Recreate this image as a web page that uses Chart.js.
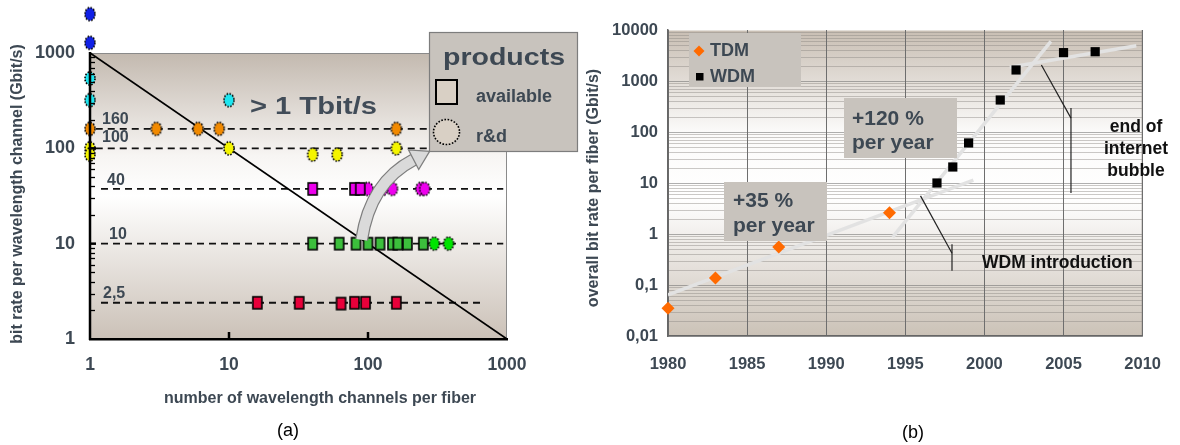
<!DOCTYPE html>
<html><head><meta charset="utf-8">
<script src="https://cdn.jsdelivr.net/npm/chart.js@4.4.0/dist/chart.umd.min.js"></script>
<style>
body{margin:0;background:#fff;width:1180px;height:445px;overflow:hidden;position:relative;font-family:"Liberation Sans",Arial,sans-serif}
#wa{position:absolute;left:0;top:0;width:580px;height:445px}
#wb{position:absolute;left:580px;top:0;width:600px;height:445px}
.cap{position:absolute;font-size:18px;color:#000;line-height:18px}
</style></head><body>
<div id="wa"><canvas id="ca" width="580" height="445"></canvas></div>
<div id="wb"><canvas id="cb" width="600" height="445"></canvas></div>
<div class="cap" style="left:277px;top:421px">(a)</div>
<div class="cap" style="left:902px;top:423px">(b)</div>
<script>
// ---------- Panel (a) data ----------
const aTicksX = [1, 10, 100, 1000];
const aTicksY = [1, 10, 100, 1000];
const aFrameTop = 1000;
const rateLevels = [160, 100, 37.5, 10, 2.4];
const rateLabels = ['160', '100', '40', '10', '2,5'];
const rateLineStart = [1.1, 1.1, 1.2, 1.2, 1.2];
const rateLineEnd = [1000, 1000, 940, 940, 670];
const limitLine = [{x: 1, y: 1000}, {x: 1000, y: 1}];
const blueRD = [{x: 1, y: 2560}, {x: 1, y: 1280}];
const cyanRD = [{x: 1, y: 540}, {x: 1, y: 320}, {x: 10, y: 320}];
const orangeRD = [{x: 1, y: 160}, {x: 3, y: 160}, {x: 6, y: 160}, {x: 8.5, y: 160}, {x: 160, y: 160}];
const yellowRD = [{x: 1, y: 100}, {x: 1, y: 86}, {x: 10, y: 100}, {x: 40, y: 86}, {x: 60, y: 86}, {x: 160, y: 100}];
const magentaAv = [{x: 40, y: 37.5}, {x: 80, y: 37.5}, {x: 88, y: 37.5}];
const magentaRD = [{x: 100, y: 37.5}, {x: 128, y: 37.5}, {x: 150, y: 37.5}, {x: 240, y: 37.5}, {x: 256, y: 37.5}];
const greenAv = [{x: 40, y: 10}, {x: 62, y: 10}, {x: 82, y: 10}, {x: 100, y: 10}, {x: 122, y: 10}, {x: 150, y: 10}, {x: 164, y: 10}, {x: 192, y: 10}, {x: 250, y: 10}];
const greenRD = [{x: 300, y: 10}, {x: 380, y: 10}];
const redAv = [{x: 16, y: 2.4}, {x: 32, y: 2.4}, {x: 64, y: 2.35}, {x: 80, y: 2.4}, {x: 96, y: 2.4}, {x: 160, y: 2.4}];
const arrowBase = [90, 11];

// ---------- Panel (b) data ----------
const tdmYears = [1980, 1983, 1987, 1994];
const tdmRates = [0.035, 0.137, 0.556, 2.6];
const wdmYears = [1997, 1998, 1999, 2001, 2002, 2005, 2007];
const wdmRates = [10, 20.6, 61, 424, 1645, 3600, 3750];
const bTicksY = [0.01, 0.1, 1, 10, 100, 1000, 10000];
const bTickLabelsY = ['0,01', '0,1', '1', '10', '100', '1000', '10000'];
const trendTdm = [{x: 1980, y: 0.064}, {x: 1999.3, y: 11.4}];
const trendWdm = [{x: 1994.2, y: 0.87}, {x: 2004.2, y: 6000}];
const trendSat = [{x: 2001.6, y: 1860}, {x: 2009.6, y: 4900}];
const wdmIntroPointer = [{x: 1995.96, y: 5.6}, {x: 1997.95, y: 0.42}];
const wdmIntroTick = [{x: 1997.95, y: 0.63}, {x: 1997.95, y: 0.19}];
const bubblePointer = [{x: 2003.6, y: 2060}, {x: 2005.47, y: 187}];
const bubbleTick = [{x: 2005.47, y: 296}, {x: 2005.47, y: 6.4}];

// ---------- helpers ----------
const FONT = '"Liberation Sans", Arial, sans-serif';
const TXT = '#3d4853';
const BOXFILL = '#c8c3bd';
function f(size, bold) { return (bold ? 'bold ' : '') + size + 'px ' + FONT; }
function markerImg(fill, shape, w, h) {
  const c = document.createElement('canvas');
  c.width = w + 4; c.height = h + 4;
  const g = c.getContext('2d');
  g.fillStyle = fill; g.strokeStyle = '#000';
  if (shape === 'rect') {
    g.lineWidth = 1.6; g.fillRect(2, 2, w, h); g.strokeRect(2, 2, w, h);
  } else {
    g.beginPath(); g.ellipse(c.width / 2, c.height / 2, w / 2, h / 2, 0, 0, Math.PI * 2);
    g.fill(); g.setLineDash([1.6, 1.4]); g.lineWidth = 1.6; g.stroke();
  }
  return c;
}
function stretchText(ctx, s, x, y, targetW) {
  const w = ctx.measureText(s).width;
  ctx.save(); ctx.translate(x, y); ctx.scale(targetW / w, 1); ctx.fillText(s, 0, 0); ctx.restore();
}
function ptsOf(xs, ys) { return xs.map((x, i) => ({x: x, y: ys[i]})); }

// ---------- Chart (a) ----------
const rdA = (col) => markerImg(col, 'ell', 10, 13);
const avA = (col) => markerImg(col, 'rect', 9, 12);
const dsA = [];
rateLevels.forEach((lv, i) => dsA.push({type: 'line', data: [{x: rateLineStart[i], y: lv}, {x: rateLineEnd[i], y: lv}], borderColor: '#111', borderWidth: 1.8, borderDash: [7, 5], pointRadius: 0, order: 3}));
dsA.push({type: 'line', data: limitLine, borderColor: '#000', borderWidth: 1.8, pointRadius: 0, order: 2});
[[blueRD, rdA('#1020e6')], [cyanRD, rdA('#1ee6f0')], [orangeRD, rdA('#f28a00')], [yellowRD, rdA('#f5f500')],
 [magentaAv, avA('#ee00ee')], [magentaRD, rdA('#ee00ee')], [greenAv, avA('#3cbf3c')], [greenRD, rdA('#00e400')], [redAv, avA('#e8003a')]]
 .forEach(([d, img]) => dsA.push({data: d, pointStyle: img, pointRadius: 6, order: 1, clip: false}));

const pluginA = {
  id: 'pa',
  beforeDraw(chart) {
    const {ctx, chartArea: a, scales: {y: ys}} = chart;
    const top = Math.round(ys.getPixelForValue(aFrameTop));
    const g = ctx.createLinearGradient(0, top, 0, a.bottom);
    g.addColorStop(0, '#c3b9af'); g.addColorStop(0.36, '#f7f5f3'); g.addColorStop(0.5, '#ffffff'); g.addColorStop(1, '#cbc1b7');
    ctx.save();
    ctx.fillStyle = g; ctx.fillRect(a.left, top, a.right - a.left, a.bottom - top);
    ctx.strokeStyle = '#8a8a8a'; ctx.lineWidth = 1;
    ctx.beginPath(); ctx.moveTo(a.left, top + 0.5); ctx.lineTo(a.right - 0.5, top + 0.5); ctx.lineTo(a.right - 0.5, a.bottom); ctx.stroke();
    ctx.restore();
  },
  afterDatasetsDraw(chart) {
    const {ctx, chartArea: a, scales: {x: xs, y: ys}} = chart;
    ctx.save();
    const top = ys.getPixelForValue(aFrameTop);
    ctx.strokeStyle = '#000'; ctx.lineWidth = 2.5;
    ctx.beginPath(); ctx.moveTo(a.left, top - 1); ctx.lineTo(a.left, a.bottom + 1); ctx.stroke();
    for (let e = 0; e < 3; e++) for (let m = 2; m <= 9; m++) {
      const py = Math.round(ys.getPixelForValue(m * Math.pow(10, e))) + 0.5;
      ctx.lineWidth = 1.3; ctx.beginPath(); ctx.moveTo(a.left, py); ctx.lineTo(a.left + 5, py); ctx.stroke();
    }
    [10, 100].forEach(v => {
      const py = ys.getPixelForValue(v);
      ctx.lineWidth = 2.5; ctx.beginPath(); ctx.moveTo(a.left, py); ctx.lineTo(a.left + 6, py); ctx.stroke();
      const px = xs.getPixelForValue(v);
      ctx.beginPath(); ctx.moveTo(px, a.bottom); ctx.lineTo(px, a.bottom - 7); ctx.stroke();
    });
    ctx.fillStyle = TXT; ctx.font = f(16, true); ctx.textBaseline = 'alphabetic'; ctx.textAlign = 'left';
    const lblOff = [[102, -5], [102, 12], [107, -4], [109, -5], [103, -5]];
    rateLevels.forEach((lv, i) => {
      const py = ys.getPixelForValue(lv);
      ctx.fillText(rateLabels[i], lblOff[i][0], i === 1 ? py - 6 : py + lblOff[i][1]);
    });
    ctx.font = f(24, true); ctx.fillStyle = '#414c58';
    stretchText(ctx, '> 1 Tbit/s', 250, 114, 127);
    const p0 = {x: xs.getPixelForValue(arrowBase[0]), y: ys.getPixelForValue(arrowBase[1])};
    const c1 = {x: p0.x + 6, y: p0.y - 40}, c2 = {x: p0.x + 25, y: p0.y - 66}, pe = {x: p0.x + 52, y: p0.y - 80};
    const band = () => { ctx.beginPath(); ctx.moveTo(p0.x, p0.y); ctx.bezierCurveTo(c1.x, c1.y, c2.x, c2.y, pe.x, pe.y); };
    ctx.lineCap = 'butt';
    band(); ctx.strokeStyle = '#7e7e7e'; ctx.lineWidth = 13; ctx.stroke();
    band(); ctx.strokeStyle = '#dadada'; ctx.lineWidth = 10.5; ctx.stroke();
    let dx = pe.x - c2.x, dy = pe.y - c2.y; const L = Math.hypot(dx, dy); dx /= L; dy /= L;
    const tip = {x: pe.x + dx * 18, y: pe.y + dy * 18};
    ctx.beginPath(); ctx.moveTo(pe.x - dy * 11, pe.y + dx * 11); ctx.lineTo(tip.x, tip.y); ctx.lineTo(pe.x + dy * 11, pe.y - dx * 11); ctx.closePath();
    ctx.fillStyle = '#dadada'; ctx.fill(); ctx.strokeStyle = '#7e7e7e'; ctx.lineWidth = 1.3; ctx.stroke();
    ctx.restore();
  },
  afterDraw(chart) {
    const {ctx, chartArea: a, scales: {y: ys}} = chart;
    ctx.save();
    const top = ys.getPixelForValue(aFrameTop);
    ctx.fillStyle = TXT; ctx.font = f(16, true); ctx.textAlign = 'center'; ctx.textBaseline = 'middle';
    ctx.fillText('number of wavelength channels per fiber', 320, 399);
    ctx.save(); ctx.translate(18, (top + a.bottom) / 2 - 2); ctx.rotate(-Math.PI / 2);
    ctx.fillText('bit rate per wavelength channel (Gbit/s)', 0, 0); ctx.restore();
    ctx.fillStyle = BOXFILL; ctx.fillRect(429, 32, 149, 120);
    ctx.strokeStyle = '#7d7d7d'; ctx.lineWidth = 1.2; ctx.strokeRect(429.5, 32.5, 148, 119);
    ctx.fillStyle = TXT; ctx.textAlign = 'left'; ctx.textBaseline = 'alphabetic';
    ctx.font = f(24, true); stretchText(ctx, 'products', 443, 65, 122);
    ctx.font = f(18, true);
    ctx.fillText('available', 476, 102);
    ctx.fillText('r&d', 476, 142);
    ctx.fillStyle = '#d9d0c5'; ctx.fillRect(436, 80, 21, 24);
    ctx.strokeStyle = '#000'; ctx.lineWidth = 2; ctx.strokeRect(436, 80, 21, 24);
    ctx.beginPath(); ctx.ellipse(446.5, 132, 13, 12.5, 0, 0, Math.PI * 2); ctx.fill();
    ctx.setLineDash([1.6, 1.6]); ctx.lineWidth = 1.6; ctx.stroke();
    ctx.restore();
  }
};

new Chart(document.getElementById('ca'), {
  type: 'scatter',
  data: {datasets: dsA},
  options: {
    responsive: false, animation: false, devicePixelRatio: 1,
    layout: {autoPadding: false, padding: {top: 7.5, right: 73, left: 0, bottom: 0}},
    plugins: {legend: {display: false}, tooltip: {enabled: false}},
    scales: {
      x: {type: 'logarithmic', min: 1, max: 1000,
        afterFit(s) { s.height = 106; },
        afterBuildTicks(s) { s.ticks = aTicksX.map(v => ({value: v})); },
        ticks: {callback: v => String(v), font: {family: FONT, size: 17.5, weight: 'bold'}, color: TXT, padding: 16, maxRotation: 0, autoSkip: false},
        grid: {display: false, drawTicks: false},
        border: {display: true, color: '#000', width: 2.5}},
      y: {type: 'logarithmic', min: 1, max: 3000,
        afterFit(s) { s.width = 90; s.paddingTop = 0; s.paddingBottom = 0; },
        afterBuildTicks(s) { s.ticks = aTicksY.map(v => ({value: v})); },
        ticks: {callback: v => String(v), font: {family: FONT, size: 18, weight: 'bold'}, color: TXT, padding: 15, autoSkip: false},
        grid: {display: false, drawTicks: false},
        border: {display: false}}
    }
  },
  plugins: [pluginA]
});

// ---------- Chart (b) ----------
const pluginB = {
  id: 'pb',
  beforeDraw(chart) {
    const {ctx, chartArea: a, scales: {y: ys}} = chart;
    const g = ctx.createLinearGradient(0, a.top, 0, a.bottom);
    g.addColorStop(0, '#c8beb3'); g.addColorStop(0.33, '#fbfaf9'); g.addColorStop(0.55, '#ffffff'); g.addColorStop(1, '#cbc2b7');
    ctx.save();
    ctx.fillStyle = g; ctx.fillRect(a.left, a.top, a.right - a.left, a.bottom - a.top);
    ctx.lineWidth = 1;
    for (let e = -2; e <= 3; e++) for (let m = 1; m <= 9; m++) {
      const v = m * Math.pow(10, e);
      const py = Math.round(ys.getPixelForValue(v)) + 0.5;
      ctx.strokeStyle = m === 1 ? 'rgba(110,110,110,0.55)' : 'rgba(140,135,130,0.45)';
      ctx.beginPath(); ctx.moveTo(a.left, py); ctx.lineTo(a.right, py); ctx.stroke();
    }
    ctx.strokeStyle = 'rgba(255,255,255,0.5)';
    ctx.beginPath(); ctx.moveTo(a.left, a.top + 0.5); ctx.lineTo(a.right, a.top + 0.5); ctx.stroke();
    ctx.strokeStyle = '#9a9690';
    ctx.beginPath(); ctx.moveTo(a.right - 0.5, a.top); ctx.lineTo(a.right - 0.5, a.bottom); ctx.stroke();
    ctx.restore();
  },
  afterDatasetsDraw(chart) {
    const {ctx, scales: {x: xs, y: ys}} = chart;
    const P = p => [xs.getPixelForValue(p.x), ys.getPixelForValue(p.y)];
    ctx.save();
    ctx.strokeStyle = '#222'; ctx.lineWidth = 1.2;
    [wdmIntroPointer, wdmIntroTick, bubblePointer, bubbleTick].forEach(seg => {
      const [x0, y0] = P(seg[0]), [x1, y1] = P(seg[1]);
      ctx.beginPath(); ctx.moveTo(x0, y0); ctx.lineTo(x1, y1); ctx.stroke();
    });
    ctx.fillStyle = BOXFILL;
    ctx.fillRect(264, 98, 113, 60);
    ctx.fillRect(144, 182, 103, 59);
    ctx.fillRect(109, 33, 112, 54);
    ctx.fillStyle = TXT; ctx.font = f(21, true); ctx.textAlign = 'left'; ctx.textBaseline = 'alphabetic';
    ctx.fillText('+120 %', 272, 125);
    ctx.fillText('per year', 272, 149);
    ctx.fillText('+35 %', 153, 207);
    ctx.fillText('per year', 153, 232);
    ctx.font = f(18, true); ctx.textBaseline = 'middle';
    ctx.fillText('TDM', 130, 51);
    ctx.fillText('WDM', 130, 77);
    ctx.fillStyle = '#ff6a00';
    ctx.beginPath(); ctx.moveTo(119, 45.5); ctx.lineTo(124.5, 51); ctx.lineTo(119, 56.5); ctx.lineTo(113.5, 51); ctx.closePath(); ctx.fill();
    ctx.fillStyle = '#000'; ctx.fillRect(116, 73, 7.5, 7.5);
    ctx.fillStyle = '#111'; ctx.font = f(17.5, true); ctx.textBaseline = 'alphabetic';
    ctx.fillText('WDM introduction', 402, 268);
    ctx.textAlign = 'center';
    ctx.fillText('end of', 556, 132);
    ctx.fillText('internet', 556, 154);
    ctx.fillText('bubble', 556, 176);
    ctx.restore();
  },
  afterDraw(chart) {
    const {ctx} = chart;
    ctx.save();
    ctx.fillStyle = TXT; ctx.font = f(16, true); ctx.textAlign = 'center'; ctx.textBaseline = 'middle';
    ctx.translate(14, 188); ctx.rotate(-Math.PI / 2);
    ctx.fillText('overall bit rate per fiber (Gbit/s)', 0, 0);
    ctx.restore();
  }
};

new Chart(document.getElementById('cb'), {
  type: 'scatter',
  data: {datasets: [
    {label: 'TDM trend', type: 'line', data: trendTdm, borderColor: '#e2e2e2', borderWidth: 3.5, pointRadius: 0, order: 3},
    {label: 'WDM trend', type: 'line', data: trendWdm, borderColor: '#e2e2e2', borderWidth: 3.5, pointRadius: 0, order: 3},
    {label: 'saturation', type: 'line', data: trendSat, borderColor: '#e2e2e2', borderWidth: 3.5, pointRadius: 0, order: 3},
    {label: 'TDM', data: ptsOf(tdmYears, tdmRates), pointStyle: 'rectRot', pointRadius: 6.5, backgroundColor: '#ff6a00', borderWidth: 0, order: 1, clip: false},
    {label: 'WDM', data: ptsOf(wdmYears, wdmRates), pointStyle: 'rect', pointRadius: 6.5, backgroundColor: '#000', borderWidth: 0, order: 1, clip: false}
  ]},
  options: {
    responsive: false, animation: false, devicePixelRatio: 1,
    layout: {padding: {top: 30, right: 30, left: 0, bottom: 0}},
    plugins: {legend: {display: false}, tooltip: {enabled: false}},
    scales: {
      x: {type: 'linear', min: 1980, max: 2010,
        afterFit(s) { s.height = 109; },
        ticks: {stepSize: 5, callback: v => String(v), font: {family: FONT, size: 16.5, weight: 'bold'}, color: TXT, padding: 19, maxRotation: 0},
        grid: {color: '#6e6e6e', lineWidth: 1, drawTicks: false},
        border: {display: true, color: '#666', width: 1.5}},
      y: {type: 'logarithmic', min: 0.01, max: 10000,
        afterFit(s) { s.width = 88; },
        afterBuildTicks(s) { s.ticks = bTicksY.map(v => ({value: v})); },
        ticks: {callback: (v, i) => bTickLabelsY[i], font: {family: FONT, size: 16.5, weight: 'bold'}, color: TXT, padding: 10, autoSkip: false},
        grid: {display: false, drawTicks: false},
        border: {display: true, color: '#666', width: 1.5}}
    }
  },
  plugins: [pluginB]
});
</script>
</body></html>
